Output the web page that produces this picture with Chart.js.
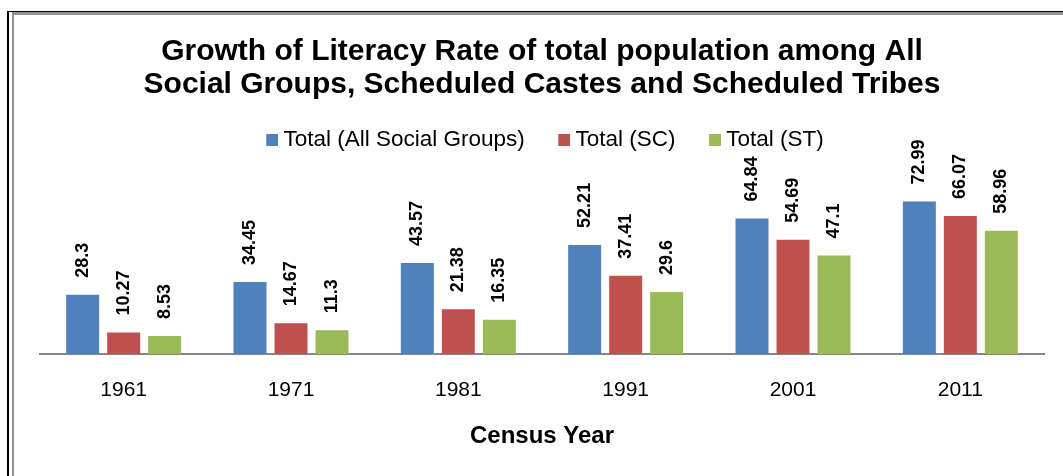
<!DOCTYPE html>
<html>
<head>
<meta charset="utf-8">
<script src="https://cdn.jsdelivr.net/npm/chart.js@4"></script>
<style>
  html, body { margin: 0; padding: 0; background: #fff; }
  #wrap { position: relative; width: 1063px; height: 476px; overflow: hidden; }
  canvas { position: absolute; left: 0; top: 0; }
  .ln { position: absolute; }
</style>
</head>
<body>
<div id="wrap">
  <canvas id="chart" width="1063" height="476"></canvas>
  <div class="ln" style="left:7px;top:11px;width:2px;height:465px;background:#000"></div>
  <div class="ln" style="left:7px;top:11px;width:1056px;height:1px;background:#000"></div>
  <div class="ln" style="left:12px;top:12px;width:2px;height:464px;background:#939393"></div>
  <div class="ln" style="left:12px;top:12px;width:1051px;height:3px;background:#939393"></div>
</div>
<script>
// census years and literacy rates (%)
const years = ['1961', '1971', '1981', '1991', '2001', '2011'];
const totalAll = [28.3, 34.45, 43.57, 52.21, 64.84, 72.99];
const totalSC = [10.27, 14.67, 21.38, 37.41, 54.69, 66.07];
const totalST = [8.53, 11.3, 16.35, 29.6, 47.1, 58.96];
const seriesNames = ['Total (All Social Groups)', 'Total (SC)', 'Total (ST)'];
const seriesColors = ['#4F81BD', '#C0504D', '#9BBB59'];

const FONT = "'Liberation Sans', Arial, sans-serif";

// legend swatch: square sits in right half so the gap to the text is small
function swatch(color) {
  const c = document.createElement('canvas');
  c.width = 24;
  c.height = 12;
  const g = c.getContext('2d');
  g.fillStyle = color;
  g.fillRect(12, 0, 12, 12);
  return c;
}

// rotated value labels above each bar
const barLabels = {
  id: 'barLabels',
  afterDatasetsDraw(chart) {
    const ctx = chart.ctx;
    ctx.save();
    ctx.font = 'bold 18px ' + FONT;
    ctx.fillStyle = '#000';
    ctx.textAlign = 'left';
    ctx.textBaseline = 'middle';
    chart.data.datasets.forEach((ds, i) => {
      chart.getDatasetMeta(i).data.forEach((bar, j) => {
        ctx.save();
        ctx.translate(bar.x, bar.y - 17);
        ctx.rotate(-Math.PI / 2);
        ctx.fillText(String(ds.data[j]), 0, 0);
        ctx.restore();
      });
    });
    ctx.restore();
  }
};

const datasets = [totalAll, totalSC, totalST].map((vals, i) => ({
  label: seriesNames[i],
  data: vals,
  backgroundColor: seriesColors[i],
  categoryPercentage: 0.735,
  barPercentage: 0.805
}));

new Chart(document.getElementById('chart'), {
  type: 'bar',
  data: { labels: years, datasets },
  plugins: [barLabels],
  options: {
    responsive: false,
    animation: false,
    layout: { padding: { left: 40, right: 19, top: 0, bottom: 26 } },
    plugins: {
      title: {
        display: true,
        text: ['Growth of Literacy Rate of total population among All',
               'Social Groups, Scheduled Castes and Scheduled Tribes'],
        color: '#000',
        font: { family: FONT, size: 30, weight: 'bold', lineHeight: 1.1 },
        padding: { top: 35, bottom: 0 }
      },
      legend: {
        display: true,
        labels: {
          color: '#000',
          font: { family: FONT, size: 22.5 },
          boxWidth: 12,
          boxHeight: 12,
          padding: 27.5,
          usePointStyle: true,
          generateLabels(chart) {
            const items = Chart.defaults.plugins.legend.labels.generateLabels(chart);
            items.forEach((it, i) => { it.pointStyle = swatch(seriesColors[i]); });
            return items;
          }
        }
      },
      tooltip: { enabled: false }
    },
    scales: {
      x: {
        grid: { display: false, drawTicks: false },
        border: { display: true, color: '#868686', width: 2 },
        ticks: { color: '#000', font: { family: FONT, size: 21, lineHeight: 1.1 }, padding: 24.5 },
        title: {
          display: true,
          text: 'Census Year',
          color: '#000',
          font: { family: FONT, size: 24, weight: 'bold', lineHeight: 1.0 },
          padding: { top: -2, bottom: 2 }
        }
      },
      y: {
        display: false,
        min: 0,
        max: 92.4
      }
    }
  }
});
</script>
</body>
</html>
